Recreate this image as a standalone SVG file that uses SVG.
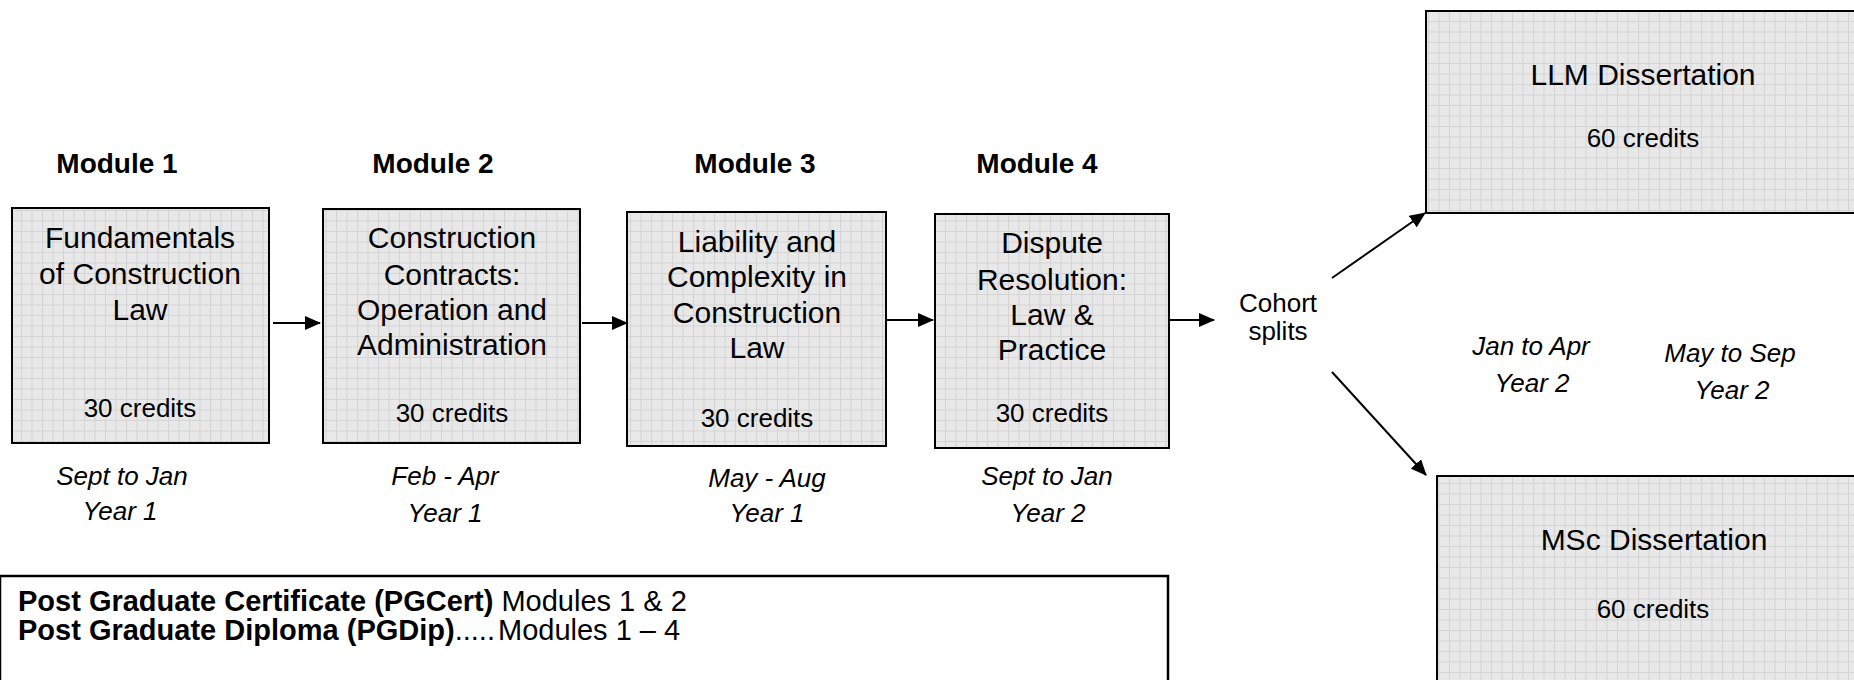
<svg xmlns="http://www.w3.org/2000/svg" width="1854" height="680" viewBox="0 0 1854 680">
<defs>
<pattern id="grid" width="10.5" height="10.5" patternUnits="userSpaceOnUse">
<rect width="10.5" height="10.5" fill="#e8e8e8"/>
<path d="M0 0.5H10.5M0.5 0V10.5" stroke="#d4d4d4" stroke-width="1"/>
</pattern>
<marker id="ah" markerWidth="16" markerHeight="14" refX="15" refY="7" orient="auto" markerUnits="userSpaceOnUse">
<path d="M0 0L16 7L0 14Z" fill="#000"/>
</marker>
<style>
.box{fill:url(#grid);stroke:#000;stroke-width:2}
.t{font-family:"Liberation Sans",Arial,sans-serif;fill:#000;text-anchor:middle}
.title{font-size:30px}
.cr{font-size:26px}
.mod{font-size:28px;font-weight:bold}
.dt{font-size:26px;font-style:italic}
.pg{font-family:"Liberation Sans",Arial,sans-serif;font-size:29px;fill:#000}
.b{font-weight:bold}
.conn line{stroke:#000;stroke-width:2;marker-end:url(#ah)}
</style>
</defs>
<rect width="1854" height="680" fill="#fff"/>

<g id="module1">
<text class="t mod" x="117" y="173">Module 1</text>
<rect class="box" x="12" y="208" width="257" height="235"/>
<text class="t title" x="140" y="248">Fundamentals</text>
<text class="t title" x="140" y="284">of Construction</text>
<text class="t title" x="140" y="320">Law</text>
<text class="t cr" x="140" y="417">30 credits</text>
<text class="t dt" x="122" y="485">Sept to Jan</text>
<text class="t dt" x="120" y="520">Year 1</text>
</g>

<g id="module2">
<text class="t mod" x="433" y="173">Module 2</text>
<rect class="box" x="323" y="209" width="257" height="234"/>
<text class="t title" x="452" y="248">Construction</text>
<text class="t title" x="452" y="285">Contracts:</text>
<text class="t title" x="452" y="320">Operation and</text>
<text class="t title" x="452" y="355">Administration</text>
<text class="t cr" x="452" y="422">30 credits</text>
<text class="t dt" x="445" y="485">Feb - Apr</text>
<text class="t dt" x="445" y="522">Year 1</text>
</g>

<g id="module3">
<text class="t mod" x="755" y="173">Module 3</text>
<rect class="box" x="627" y="212" width="259" height="234"/>
<text class="t title" x="757" y="252">Liability and</text>
<text class="t title" x="757" y="287">Complexity in</text>
<text class="t title" x="757" y="323">Construction</text>
<text class="t title" x="757" y="358">Law</text>
<text class="t cr" x="757" y="427">30 credits</text>
<text class="t dt" x="767" y="487">May - Aug</text>
<text class="t dt" x="767" y="522">Year 1</text>
</g>

<g id="module4">
<text class="t mod" x="1037" y="173">Module 4</text>
<rect class="box" x="935" y="214" width="234" height="234"/>
<text class="t title" x="1052" y="253">Dispute</text>
<text class="t title" x="1052" y="290">Resolution:</text>
<text class="t title" x="1052" y="325">Law &amp;</text>
<text class="t title" x="1052" y="360">Practice</text>
<text class="t cr" x="1052" y="422">30 credits</text>
<text class="t dt" x="1047" y="485">Sept to Jan</text>
<text class="t dt" x="1048" y="522">Year 2</text>
</g>

<g id="cohort">
<text class="t cr" x="1278" y="312">Cohort</text>
<text class="t cr" x="1278" y="340">splits</text>
</g>

<g id="llm">
<rect class="box" x="1426" y="11" width="440" height="202"/>
<text class="t title" x="1643" y="85">LLM Dissertation</text>
<text class="t cr" x="1643" y="147">60 credits</text>
</g>

<g id="msc">
<rect class="box" x="1437" y="476" width="430" height="220"/>
<text class="t title" x="1654" y="550">MSc Dissertation</text>
<text class="t cr" x="1653" y="618">60 credits</text>
</g>

<g id="dates-year2">
<text class="t dt" x="1531" y="355">Jan to Apr</text>
<text class="t dt" x="1532" y="392">Year 2</text>
<text class="t dt" x="1730" y="362">May to Sep</text>
<text class="t dt" x="1732" y="399">Year 2</text>
</g>

<g id="awards">
<rect x="0" y="576" width="1168" height="120" fill="#fff" stroke="#000" stroke-width="2.5"/>
<text class="pg" x="18" y="611"><tspan class="b">Post Graduate Certificate (PGCert)</tspan> Modules 1 &amp; 2</text>
<text class="pg" x="18" y="640"><tspan class="b">Post Graduate Diploma (PGDip)</tspan>.....<tspan dx="3">Modules 1 – 4</tspan></text>
</g>

<g id="connectors" class="conn">
<line x1="273" y1="323" x2="320" y2="323"/>
<line x1="582" y1="323" x2="627" y2="323"/>
<line x1="887" y1="320" x2="933" y2="320"/>
<line x1="1170" y1="320" x2="1214" y2="320"/>
<line x1="1332" y1="278" x2="1425" y2="213"/>
<line x1="1332" y1="372" x2="1426" y2="475"/>
</g>
</svg>
